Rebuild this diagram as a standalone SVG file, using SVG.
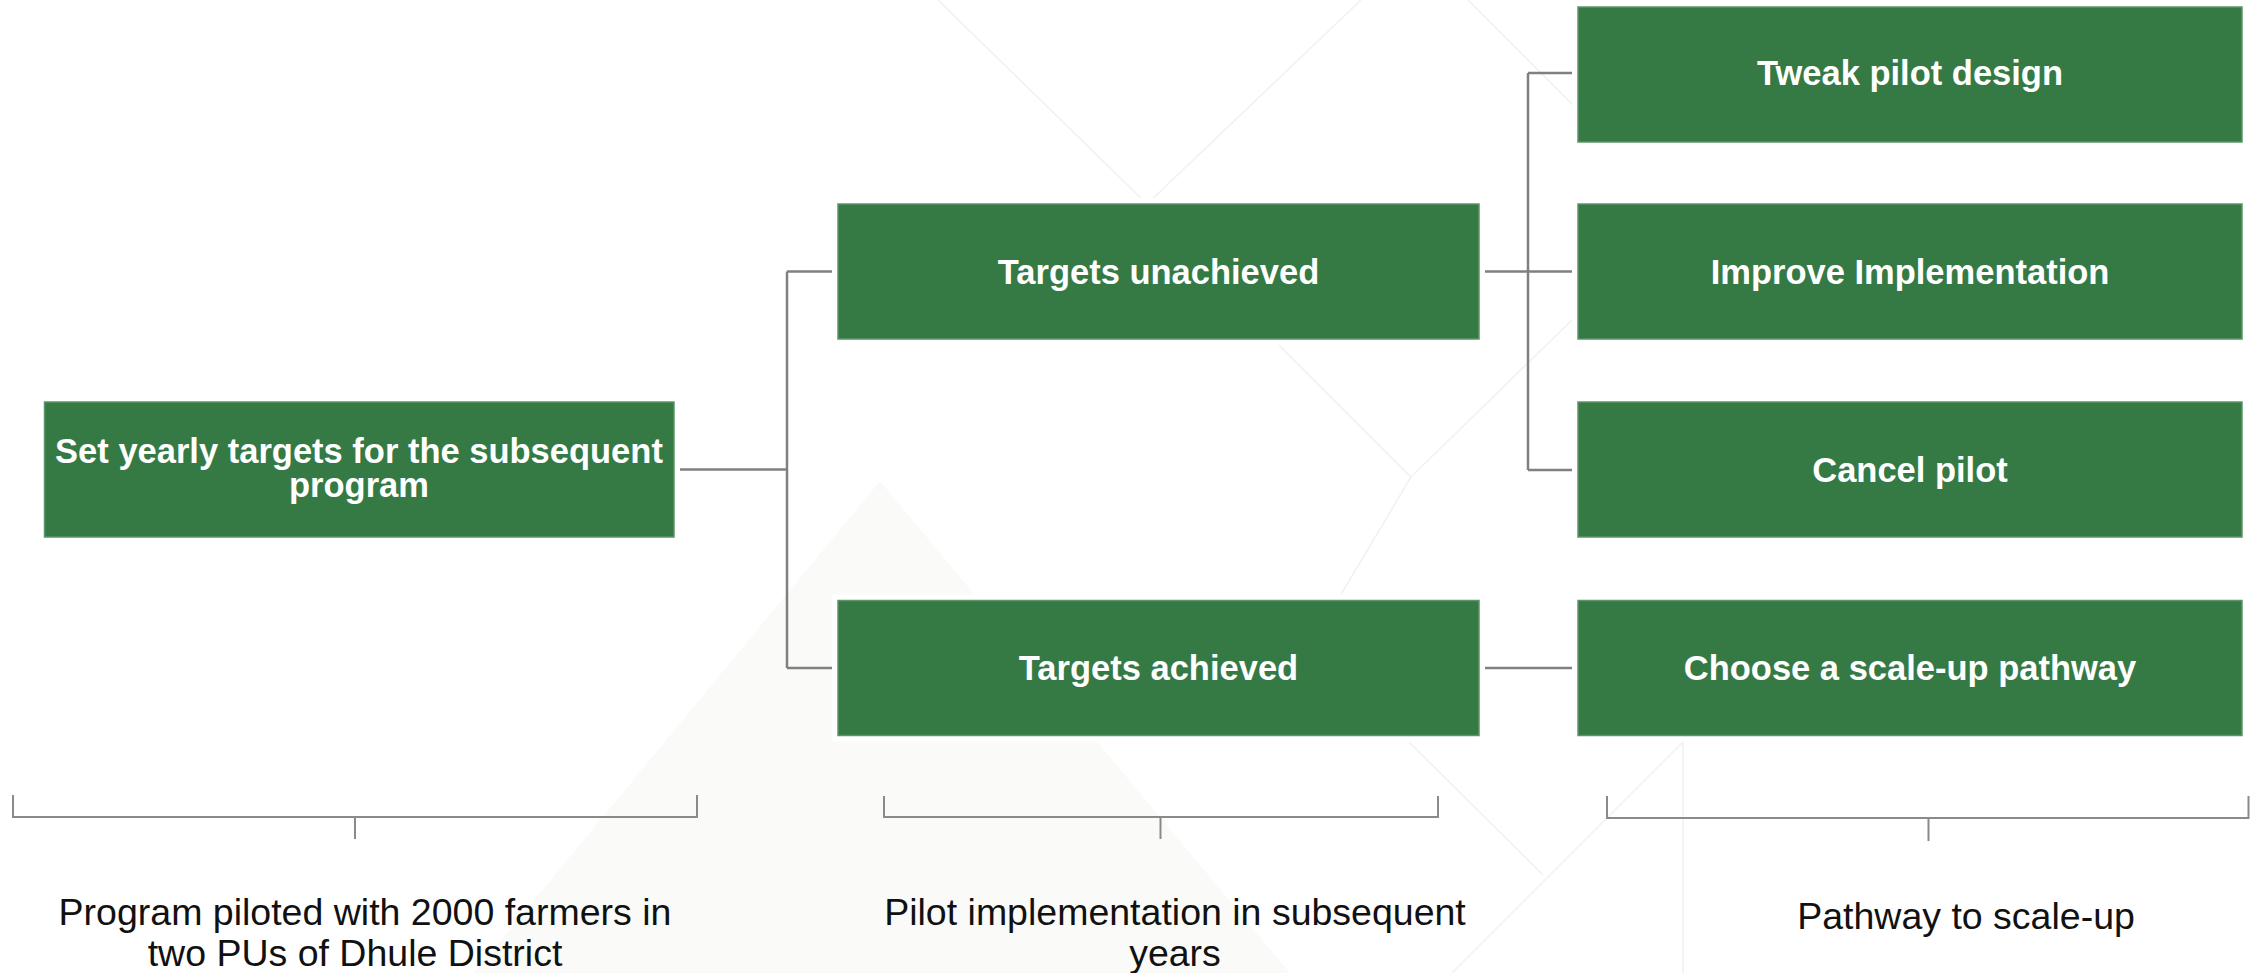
<svg xmlns="http://www.w3.org/2000/svg" width="2253" height="973" viewBox="0 0 2253 973">
  <style>
    .box { fill: #357A45; stroke: #5E9467; stroke-width: 1.5; }
    .halo { fill: #FFFFFF; }
    .btxt { font-family: "Liberation Sans", Arial, sans-serif; font-weight: bold; font-size: 34.5px; fill: #FFFFFF; text-anchor: middle; }
    .ltxt { font-family: "Liberation Sans", Arial, sans-serif; font-size: 37.5px; fill: #111111; text-anchor: middle; }
    .conn { fill: none; stroke: #808080; stroke-width: 2.5; }
    .brk { fill: none; stroke: #8A8A8A; stroke-width: 2; }
    .deco { fill: none; stroke: #EEF3EE; stroke-width: 1.5; }
  </style>
  <rect x="0" y="0" width="2253" height="973" fill="#FFFFFF"/>

  <g id="background">
    <polygon points="880,481 474,973 1290,973" fill="#FAFBF8"/>
    <path class="deco" d="M938,0 L1147,204 M1361,0 L1147,204 M1468,0 L1578,110 M1279,345 L1411,477 L1572,320 M1411,477 L1290,680 M1409,742 L1543,875 M1683,742 L1452,973 M1683,742 L1683,973"/>
  </g>

  <g id="connectors">
    <path class="conn" d="M674,469.5 H787 M787,271.5 V668 M787,271.5 H838 M787,668 H838"/>
    <path class="conn" d="M1479,271.5 H1578 M1528,73 V470 M1528,73 H1578 M1528,470 H1578"/>
    <path class="conn" d="M1479,668 H1578"/>
  </g>

  <g id="node-set-targets">
    <rect class="halo" x="38" y="396" width="642" height="147"/>
    <rect class="box" x="44.5" y="402" width="629.5" height="135"/>
    <text class="btxt" x="359" y="463">Set yearly targets for the subsequent</text>
    <text class="btxt" x="359" y="497">program</text>
  </g>

  <g id="node-targets-unachieved">
    <rect class="halo" x="832" y="198" width="653" height="147"/>
    <rect class="box" x="838" y="204" width="641" height="135"/>
    <text class="btxt" x="1158.5" y="284">Targets unachieved</text>
  </g>

  <g id="node-targets-achieved">
    <rect class="halo" x="832" y="594.5" width="653" height="147"/>
    <rect class="box" x="838" y="600.5" width="641" height="135"/>
    <text class="btxt" x="1158.5" y="680">Targets achieved</text>
  </g>

  <g id="node-tweak">
    <rect class="halo" x="1572" y="1" width="676" height="147"/>
    <rect class="box" x="1578" y="7" width="664" height="135"/>
    <text class="btxt" x="1910" y="85">Tweak pilot design</text>
  </g>

  <g id="node-improve">
    <rect class="halo" x="1572" y="198" width="676" height="147"/>
    <rect class="box" x="1578" y="204" width="664" height="135"/>
    <text class="btxt" x="1910" y="284">Improve Implementation</text>
  </g>

  <g id="node-cancel">
    <rect class="halo" x="1572" y="396" width="676" height="147"/>
    <rect class="box" x="1578" y="402" width="664" height="135"/>
    <text class="btxt" x="1910" y="482">Cancel pilot</text>
  </g>

  <g id="node-scale-up">
    <rect class="halo" x="1572" y="594.5" width="676" height="147"/>
    <rect class="box" x="1578" y="600.5" width="664" height="135"/>
    <text class="btxt" x="1910" y="680">Choose a scale-up pathway</text>
  </g>

  <g id="bracket-pilot">
    <path class="brk" d="M13,795 V817 H697 V795 M355,817 V839"/>
    <text class="ltxt" x="365" y="925" font-size="38">Program piloted with 2000 farmers in</text>
    <text class="ltxt" x="355" y="966" font-size="38">two PUs of Dhule District</text>
  </g>

  <g id="bracket-implementation">
    <path class="brk" d="M884,796 V817 H1438 V796 M1160.5,817 V839"/>
    <text class="ltxt" x="1175" y="925">Pilot implementation in subsequent</text>
    <text class="ltxt" x="1175" y="966">years</text>
  </g>

  <g id="bracket-scale-up">
    <path class="brk" d="M1607,796 V818 H2248.5 V796 M1928.5,818 V841"/>
    <text class="ltxt" x="1966" y="929">Pathway to scale-up</text>
  </g>
</svg>
